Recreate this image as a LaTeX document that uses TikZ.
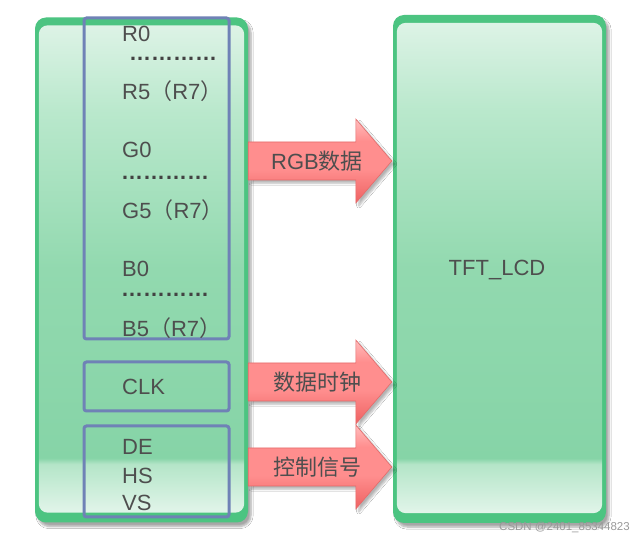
\documentclass[tikz,border=0pt]{standalone}
\usepackage{fontspec}
\setmainfont{Liberation Sans}
\newfontfamily\cjk{Noto Sans CJK SC}
\usetikzlibrary{shadows.blur,calc}
\definecolor{gborder}{HTML}{4CC481}
\definecolor{gtop}{HTML}{DDF3E6}
\definecolor{gupper}{HTML}{B9E8CC}
\definecolor{gmid}{HTML}{92D9AF}
\definecolor{glow}{HTML}{86D4A7}
\definecolor{gglossA}{HTML}{B4E5C8}
\definecolor{gglossB}{HTML}{E2F5EA}
\definecolor{bframe}{HTML}{6F82B6}
\definecolor{rtop}{HTML}{FFBDBD}
\definecolor{rmid}{HTML}{FF8E8E}
\definecolor{rbot}{HTML}{EE6262}
\definecolor{redge}{HTML}{E46A6A}
\definecolor{txt}{HTML}{4E4E4E}
\pgfdeclareverticalshading{greenbody}{100bp}{color(0bp)=(gglossB); color(25bp)=(gglossB); color(30bp)=(gglossA); color(30.6bp)=(glow); color(50bp)=(gmid); color(66bp)=(gupper); color(75bp)=(gtop); color(100bp)=(gtop)}
\pgfdeclareverticalshading{redbody}{100bp}{color(0bp)=(rbot); color(25bp)=(rbot); color(45bp)=(rmid); color(62bp)=(rmid); color(75bp)=(rtop); color(100bp)=(rtop)}
\tikzset{
  gbox/.style={rectangle, rounded corners=11pt, fill=gborder, inner sep=0pt,
    blur shadow={shadow xshift=3pt, shadow yshift=-4pt, shadow blur steps=6, shadow opacity=35}},
  ginner/.style={shading=greenbody, rounded corners=9pt},
  bbox/.style={draw=bframe, line width=3pt, rounded corners=2.5pt},
  sig/.style={text=txt, font=\fontsize{22}{25}\selectfont, inner sep=0pt, anchor=base west},
  dotsline/.style={text=txt!85!black, font=\fontsize{22}{25}\selectfont\bfseries, inner sep=0pt, anchor=base west, text height=3pt, text depth=0pt},
  arrowbody/.style={shading=redbody, draw=redge, line width=0.6pt, line join=miter,
    blur shadow={shadow xshift=3pt, shadow yshift=-3pt, shadow blur steps=5, shadow opacity=30}},
  arrowlabel/.style={text=txt, font=\fontsize{22}{25}\selectfont\cjk, inner sep=0pt},
}
\begin{document}
\begin{tikzpicture}[x=1pt,y=-1pt]
\useasboundingbox[fill=white] (0,0) rectangle (633,540);
% green boxes
\node[gbox, minimum width=213pt, minimum height=505pt] (lft) at (141.5,270) {};
\node[gbox, minimum width=213pt, minimum height=508pt] (rgt) at (499.5,269) {};
\shade[ginner] ($(lft.north west)+(4,8)$) rectangle ($(lft.south east)+(-4,-10)$);
\shade[ginner] ($(rgt.north west)+(4,8)$) rectangle ($(rgt.south east)+(-4,-10)$);
\node[text=txt, font=\fontsize{22}{25}\selectfont, inner sep=0pt] (lcd) at (497,270) {TFT\_LCD};
% blue frames
\draw[bbox] (84,18) rectangle (229,339);
\draw[bbox] (84,362) rectangle (229,411);
\draw[bbox] (84,426) rectangle (229,517);
% signal names
\node[sig] (r0) at (122,42) {R0};
\node[dotsline] (rd) at (129,61) {…………};
\node[sig] (r5) at (122,100) {R5{\cjk（}R7{\cjk）}};
\node[sig] (g0) at (122,158) {G0};
\node[dotsline] (gd) at (121,180) {…………};
\node[sig] (g5) at (122,219) {G5{\cjk（}R7{\cjk）}};
\node[sig] (b0) at (122,277) {B0};
\node[dotsline] (bd) at (121,297) {…………};
\node[sig] (b5) at (122,337) {B5{\cjk（}R7{\cjk）}};
\node[sig] (clk) at (122,395) {CLK};
\node[sig] (de) at (122,455) {DE};
\node[sig] (hs) at (122,484) {HS};
\node[sig] (vs) at (122,511) {VS};
% arrows
\foreach \yc/\nm in {161/a, 382/b, 467/c}{
  \coordinate (\nm s) at (lft.east |- 0,\yc);
  \coordinate (\nm t) at ($(rgt.west |- 0,\yc)+(-1,0)$);
  \path[arrowbody] ($(\nm s)+(0,-19)$) -- ($(\nm t)+(-36,-19)$) -- ($(\nm t)+(-36,-42)$)
     -- (\nm t) -- ($(\nm t)+(-36,42)$) -- ($(\nm t)+(-36,19)$) -- ($(\nm s)+(0,19)$) -- cycle;
}
\node[arrowlabel] (la) at (317,161) {\setmainfont{Liberation Sans}\fontsize{22}{25}\selectfont RGB{\cjk 数据}};
\node[arrowlabel] (lb) at (317,382) {数据时钟};
\node[arrowlabel] (lc) at (317,467) {控制信号};
% watermark
\node[text=black!40, font=\fontsize{11.5}{13}\selectfont, inner sep=0pt, anchor=east] (wm) at (630,527) {CSDN @2401\_85344823};
\end{tikzpicture}
\end{document}
